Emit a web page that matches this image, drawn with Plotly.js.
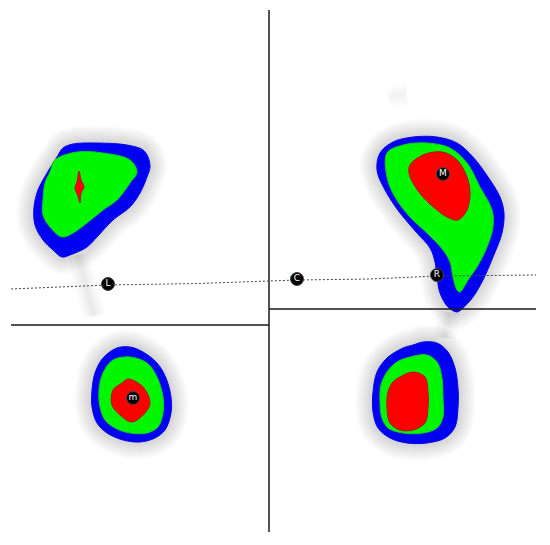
<!DOCTYPE html>
<html>
<head>
<meta charset="utf-8">
<script src="https://cdn.plot.ly/plotly-3.0.1.min.js"></script>
<style>
	html, body { margin: 0; padding: 0; background: #fff; }
	#plotDiv { width: 550px; height: 545px; }
</style>
</head>
<body>
<div id="plotDiv"></div>
<script>
// Density contours (image pixel units, y downwards)
// top-left blob
const tlBlueX = [73, 97, 127, 143, 148, 150, 147, 140, 130, 113, 97, 87, 70, 62, 53, 43, 35, 34, 38, 47, 57, 63];
const tlBlueY = [144, 143, 145, 150, 157, 167, 177, 193, 207, 220, 237, 247, 255, 257, 250, 240, 225, 207, 190, 173, 157, 148];
const tlGreenX = [55, 77, 103, 130, 137, 130, 117, 103, 87, 73, 62, 50, 43, 43, 45, 50];
const tlGreenY = [160, 152, 153, 160, 172, 183, 200, 210, 223, 233, 237, 227, 215, 200, 183, 172];
const tlRedX = [79, 81, 84, 81, 80, 78, 75, 77];
const tlRedY = [171, 180, 187, 193, 203, 196, 188, 182];

// top-right blob
const trBlueX = [380, 393, 413, 437, 457, 473, 488, 500, 504, 502, 493, 483, 473, 463, 457, 448, 440, 437, 435, 430, 417, 400, 385, 377];
const trBlueY = [153, 142, 137, 137, 143, 157, 177, 197, 213, 233, 257, 280, 297, 308, 312, 307, 293, 277, 262, 248, 233, 213, 190, 170];
const trGreenX = [387, 403, 427, 450, 467, 480, 492, 493, 487, 477, 468, 460, 457, 453, 450, 443, 427, 410, 395, 387];
const trGreenY = [153, 145, 143, 148, 163, 187, 210, 227, 247, 267, 280, 292, 290, 277, 262, 250, 233, 217, 197, 177];
const trRedX = [410, 423, 442, 457, 467, 470, 467, 458, 447, 437, 423, 413, 409];
const trRedY = [165, 155, 152, 160, 177, 193, 210, 220, 217, 210, 197, 183, 173];

// bottom-left blob
const blBlueX = [117, 130, 143, 157, 166, 171, 171, 165, 155, 140, 123, 107, 97, 92, 92, 95, 103];
const blBlueY = [348, 347, 352, 363, 378, 397, 413, 430, 438, 442, 440, 433, 423, 407, 390, 373, 358];
const blGreenX = [113, 130, 147, 157, 163, 163, 158, 147, 130, 115, 105, 100, 99, 103];
const blGreenY = [360, 357, 363, 377, 397, 413, 427, 433, 433, 428, 420, 407, 390, 373];
const blRedX = [128, 143, 150, 145, 132, 120, 112, 113, 122];
const blRedY = [379, 387, 403, 413, 422, 415, 405, 390, 383];

// bottom-right blob
const brBlueX = [423, 437, 448, 455, 458, 458, 455, 445, 427, 407, 390, 378, 373, 373, 377, 387, 403, 413];
const brBlueY = [342, 343, 352, 368, 388, 408, 427, 438, 443, 443, 438, 428, 412, 392, 372, 358, 348, 345];
const brGreenX = [410, 427, 437, 442, 443, 443, 437, 423, 403, 388, 382, 380, 381, 387, 397];
const brGreenY = [357, 355, 362, 378, 398, 417, 428, 433, 433, 428, 418, 402, 385, 372, 362];
const brRedX = [400, 413, 425, 428, 428, 425, 413, 400, 390, 387, 388, 393];
const brRedY = [377, 372, 377, 392, 408, 423, 430, 430, 423, 408, 392, 382];

// faint grey trails
const tailLeftX = [78, 84, 90, 94];
const tailLeftY = [255, 280, 300, 316];
const tailRightX = [449, 447, 445];
const tailRightY = [312, 325, 338];
const smudgeX = [389, 398, 407];
const smudgeY = [98, 95, 94];

// dividing lines
const vLineX = [269, 269];
const vLineY = [10, 532];
const hLeftX = [11, 269];
const hLeftY = [325, 325];
const hRightX = [269, 536];
const hRightY = [309, 309];

// dotted line through L, C, R
const dotX = [11, 108, 200, 297, 370, 437, 536];
const dotY = [289, 285, 283.5, 280, 279, 276, 275];

// labelled points
const ptLabels = ["L", "C", "R", "M", "m"];
const ptX = [108, 297, 437, 443, 133];
const ptY = [284, 279, 275, 174, 398];

const blobs = [
	[tlBlueX, tlBlueY, tlGreenX, tlGreenY, tlRedX, tlRedY],
	[trBlueX, trBlueY, trGreenX, trGreenY, trRedX, trRedY],
	[blBlueX, blBlueY, blGreenX, blGreenY, blRedX, blRedY],
	[brBlueX, brBlueY, brGreenX, brGreenY, brRedX, brRedY],
];

function closed(arr) {
	return arr.concat([arr[0]]);
}

const traces = [];

// soft grey halo round each blob (stacked strokes fake a blur)
const haloWidths = [34, 30, 26, 22, 18, 14, 10, 6];
blobs.forEach((b) => {
	haloWidths.forEach((w) => {
		traces.push({
			x: closed(b[0]),
			y: closed(b[1]),
			type: "scatter",
			mode: "lines",
			line: { color: "rgba(0,0,0,0.02)", width: w, shape: "spline", smoothing: 1 },
			hoverinfo: "skip",
		});
	});
});

// trails, fainter
[[tailLeftX, tailLeftY, 0.018], [tailRightX, tailRightY, 0.018], [smudgeX, smudgeY, 0.012]].forEach(([x, y, a]) => {
	[22, 16, 10, 5].forEach((w) => {
		traces.push({
			x: x,
			y: y,
			type: "scatter",
			mode: "lines",
			line: { color: `rgba(0,0,0,${a})`, width: w, shape: "spline" },
			hoverinfo: "skip",
		});
	});
});

// contour fills: blue, green, red
const fillColors = ["#0000f5", "#00f700", "#ff0000"];
const edgeColors = ["#0a0ad8", "#10d010", "#b01010"];
blobs.forEach((b) => {
	for (let k = 0; k < 3; k++) {
		traces.push({
			x: closed(b[2 * k]),
			y: closed(b[2 * k + 1]),
			type: "scatter",
			mode: "lines",
			fill: "toself",
			fillcolor: fillColors[k],
			line: { color: edgeColors[k], width: 1, shape: "spline", smoothing: 1 },
			hoverinfo: "skip",
		});
	}
});

// dividing lines
[[vLineX, vLineY], [hLeftX, hLeftY], [hRightX, hRightY]].forEach(([x, y]) => {
	traces.push({
		x: x,
		y: y,
		type: "scatter",
		mode: "lines",
		line: { color: "#1a1a1a", width: 1.5 },
		hoverinfo: "skip",
	});
});

traces.push({
	x: dotX,
	y: dotY,
	type: "scatter",
	mode: "lines",
	line: { color: "#444", width: 1, dash: "2px,2px" },
	hoverinfo: "skip",
});

traces.push({
	x: ptX,
	y: ptY,
	text: ptLabels,
	type: "scatter",
	mode: "markers+text",
	textposition: "middle center",
	textfont: { color: "#fff", size: 9, family: "DejaVu Sans" },
	marker: { color: "#000", size: 13, line: { color: "#444", width: 1 } },
	hoverinfo: "skip",
});

const layout = {
	width: 550,
	height: 545,
	margin: { l: 0, r: 0, t: 0, b: 0 },
	showlegend: false,
	paper_bgcolor: "#fff",
	plot_bgcolor: "#fff",
	xaxis: { range: [0, 550], visible: false, fixedrange: true },
	yaxis: { range: [545, 0], visible: false, fixedrange: true },
};

Plotly.newPlot("plotDiv", traces, layout, { staticPlot: true });
</script>
</body>
</html>
